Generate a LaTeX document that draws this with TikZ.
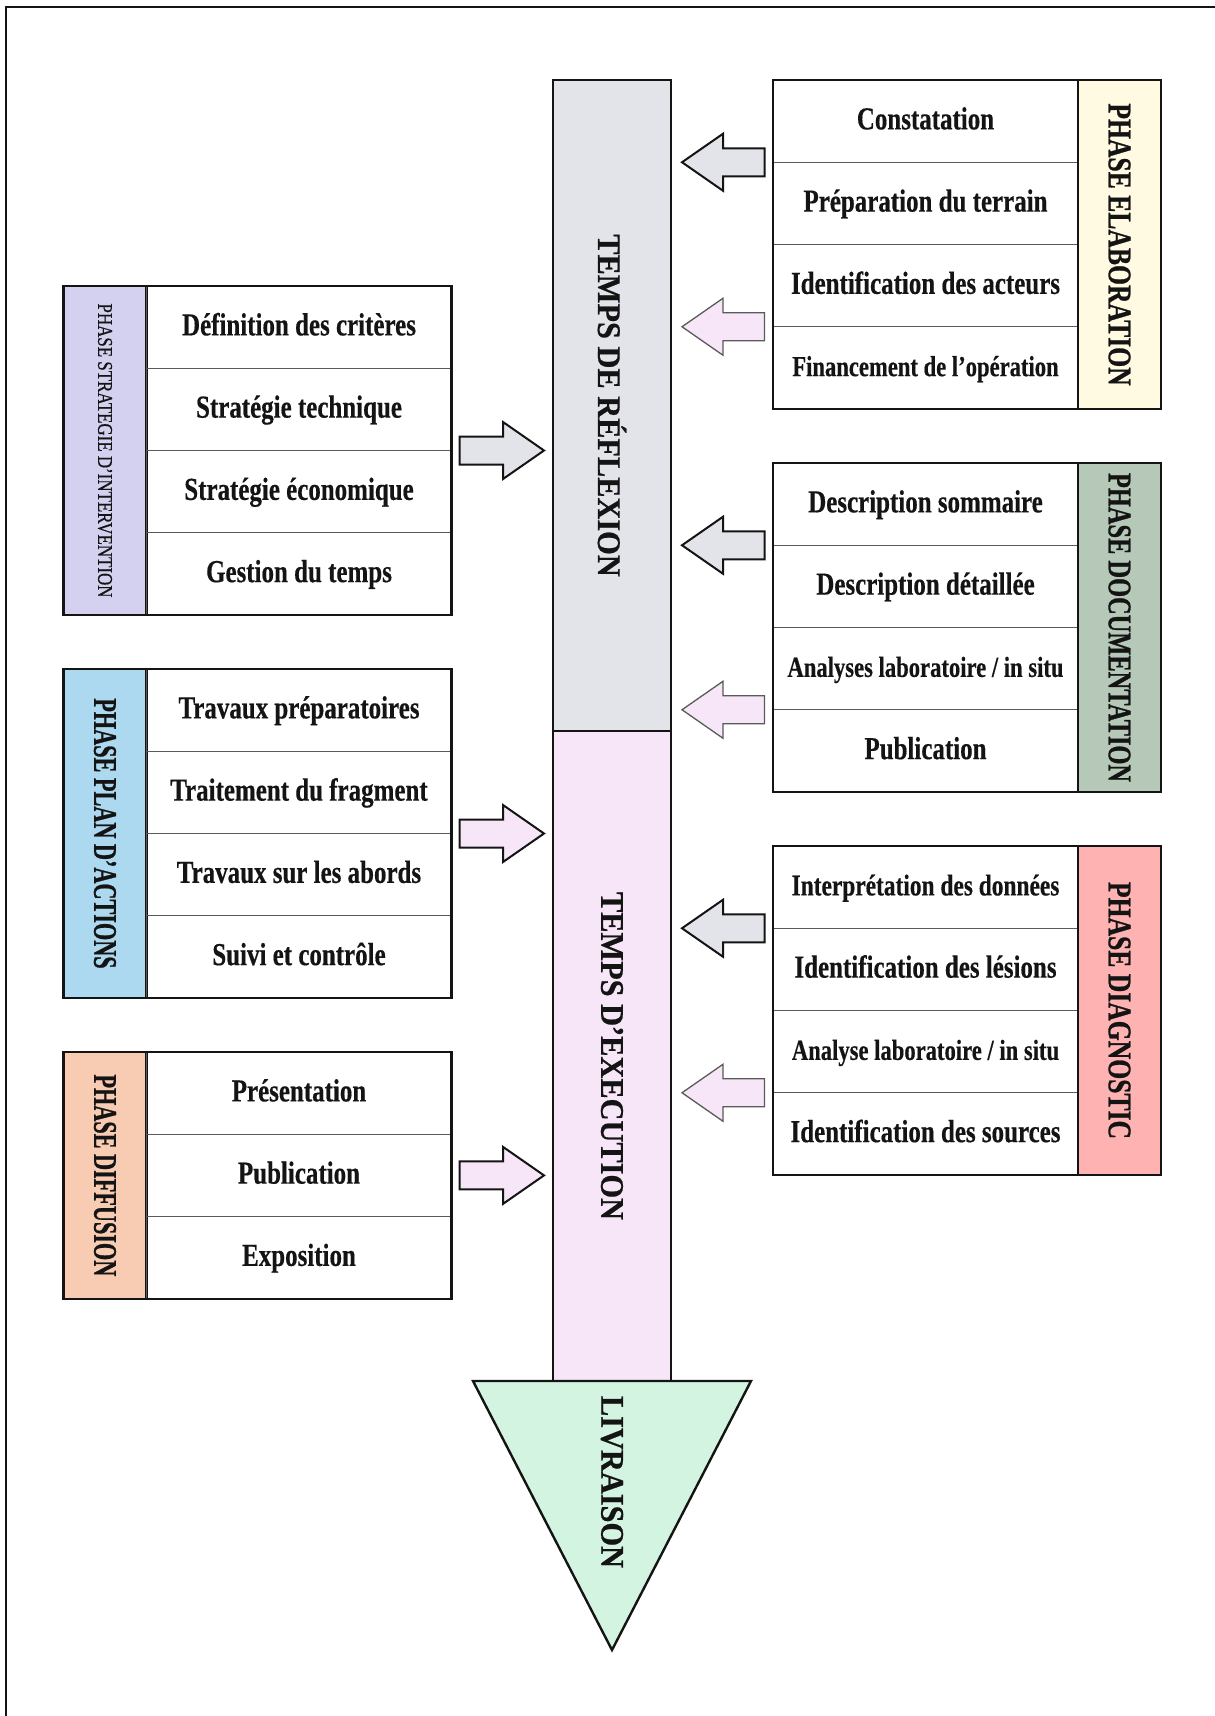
\documentclass[tikz,border=0pt]{standalone}
\usepackage{fontspec}
\usepackage{graphicx}
\usepackage{xcolor}
\usetikzlibrary{positioning, calc}
\newfontfamily\itemfont{Liberation Serif}[FakeStretch=0.78, FakeBold=0.4]
\newfontfamily\phasefont{Liberation Serif}[FakeStretch=0.74, FakeBold=0.8]
\newfontfamily\tempsfont{Liberation Serif}[FakeStretch=0.92, FakeBold=0.6]
\newfontfamily\stratfont{Liberation Serif}[FakeStretch=0.84, FakeBold=0.5]
\definecolor{ink}{RGB}{20, 20, 20}
\definecolor{rulegray}{RGB}{90, 90, 90}
\definecolor{reflgray}{RGB}{227, 227, 234}
\definecolor{execpink}{RGB}{246, 230, 247}
\definecolor{mint}{RGB}{212, 244, 226}
\definecolor{elabyellow}{RGB}{255, 250, 225}
\definecolor{docsage}{RGB}{182, 201, 184}
\definecolor{diagrose}{RGB}{255, 178, 178}
\definecolor{stratlav}{RGB}{212, 208, 240}
\definecolor{planblue}{RGB}{172, 216, 240}
\definecolor{diffpeach}{RGB}{248, 204, 178}

% vertical label, read top to bottom, optional length factor
\newcommand{\vlabel}[2][1]{\rotatebox{-90}{\scalebox{#1}[1]{#2}}}

% horizontal block arrow from tail coordinate #3 to tip coordinate #4
\newcommand{\blockarrow}[4][blk]{%
  \draw[#1, fill=#2]
    ($(#3)+(0,-14)$) -- ($(#4)!41pt!(#3)+(0,-14)$) -- ($(#4)!41pt!(#3)+(0,-28.5)$)
    -- (#4) -- ($(#4)!41pt!(#3)+(0,28.5)$) -- ($(#4)!41pt!(#3)+(0,14)$)
    -- ($(#3)+(0,14)$) -- cycle;}

\begin{document}
\begin{tikzpicture}[x=1pt, y=-1pt,
  item/.style={draw=rulegray, line width=1.1pt, outer sep=0pt, inner sep=0pt,
    minimum width=305pt, minimum height=82.25pt, text=ink,
    text height=22pt, text depth=5.5pt,
    font=\itemfont\bfseries\fontsize{32}{34}\selectfont},
  itemsm/.style={item, font=\itemfont\bfseries\fontsize{29}{31}\selectfont},
  phase/.style={draw=ink, line width=2.2pt, outer sep=0pt, inner sep=0pt,
    minimum width=83pt, minimum height=329pt, text=ink,
    font=\phasefont\bfseries\fontsize{33}{33}\selectfont},
  bar/.style={draw=ink, line width=2.4pt, outer sep=0pt, inner sep=0pt,
    minimum width=118pt, text=ink,
    font=\tempsfont\bfseries\fontsize{33}{33}\selectfont},
  frm/.style={draw=ink, line width=2.4pt},
  blk/.style={draw=ink, line width=2pt, line join=miter},
  blklite/.style={draw=rulegray, line width=1.3pt, line join=miter}
]
\useasboundingbox (0,0) rectangle (1215,1716);
\fill[white] (0,0) rectangle (1215,1716);
\draw[line width=2.4pt, ink] (6,1716) -- (6,7) -- (1215,7);

% central time bar
\node[bar, fill=reflgray, minimum height=651pt, anchor=north] (refl) at (612,80)
  {\vlabel{TEMPS DE RÉFLEXION}};
\node[bar, fill=execpink, minimum height=650pt, below=0pt of refl] (exec)
  {\vlabel{TEMPS D’EXECUTION}};
\draw[frm, fill=mint, line join=miter] ($(exec.south)+(-139,0)$) coordinate (trl)
  -- ($(exec.south)+(139,0)$) coordinate (trr)
  -- ($(exec.south)+(0,269)$) coordinate (trtip) -- cycle;
\node[bar, draw=none, minimum height=0pt] (livr) at ($(exec.south)+(0,101)$)
  {\vlabel{LIVRAISON}};

% right: phase elaboration
\node[item, anchor=north west] (r1a) at (773,80) {Constatation};
\node[item, below=0pt of r1a] (r1b) {Préparation du terrain};
\node[item, below=0pt of r1b] (r1c) {Identification des acteurs};
\node[itemsm, below=0pt of r1c] (r1d) {Financement de l’opération};
\node[phase, fill=elabyellow, anchor=north west] (p1) at (r1a.north east)
  {\vlabel[1.05]{PHASE ELABORATION}};
\draw[frm] (r1a.north west) rectangle (p1.south east);

% right: phase documentation
\node[item, anchor=north west] (r2a) at (773,463) {Description sommaire};
\node[item, below=0pt of r2a] (r2b) {Description détaillée};
\node[itemsm, below=0pt of r2b] (r2c) {Analyses laboratoire / in situ};
\node[item, below=0pt of r2c] (r2d) {Publication};
\node[phase, fill=docsage, anchor=north west] (p2) at (r2a.north east)
  {\vlabel{PHASE DOCUMENTATION}};
\draw[frm] (r2a.north west) rectangle (p2.south east);

% right: phase diagnostic
\node[itemsm, anchor=north west, font=\itemfont\bfseries\fontsize{30}{32}\selectfont]
  (r3a) at (773,846) {Interprétation des données};
\node[item, below=0pt of r3a] (r3b) {Identification des lésions};
\node[itemsm, below=0pt of r3b] (r3c) {Analyse laboratoire / in situ};
\node[item, below=0pt of r3c] (r3d) {Identification des sources};
\node[phase, fill=diagrose, anchor=north west] (p3) at (r3a.north east)
  {\vlabel[1.05]{PHASE DIAGNOSTIC}};
\draw[frm] (r3a.north west) rectangle (p3.south east);

% left: phase strategie
\node[phase, fill=stratlav, anchor=north west,
      font=\stratfont\fontsize{21}{21}\selectfont] (p4) at (63.5,286)
  {\vlabel[0.96]{PHASE STRATEGIE D’INTERVENTION}};
\node[item, anchor=north west] (l1a) at (p4.north east) {Définition des critères};
\node[item, below=0pt of l1a] (l1b) {Stratégie technique};
\node[item, below=0pt of l1b] (l1c) {Stratégie économique};
\node[item, below=0pt of l1c] (l1d) {Gestion du temps};
\draw[frm] (p4.north west) rectangle (l1d.south east);

% left: phase plan d'actions
\node[phase, fill=planblue, anchor=north west] (p5) at (63.5,669)
  {\vlabel[0.91]{PHASE PLAN D’ACTIONS}};
\node[item, anchor=north west] (l2a) at (p5.north east) {Travaux préparatoires};
\node[item, below=0pt of l2a] (l2b) {Traitement du fragment};
\node[item, below=0pt of l2b] (l2c) {Travaux sur les abords};
\node[item, below=0pt of l2c] (l2d) {Suivi et contrôle};
\draw[frm] (p5.north west) rectangle (l2d.south east);

% left: phase diffusion
\node[phase, fill=diffpeach, minimum height=246.75pt, anchor=north west] (p6)
  at (63.5,1052) {\vlabel[0.91]{PHASE DIFFUSION}};
\node[item, anchor=north west] (l3a) at (p6.north east) {Présentation};
\node[item, below=0pt of l3a] (l3b) {Publication};
\node[item, below=0pt of l3b] (l3c) {Exposition};
\draw[frm] (p6.north west) rectangle (l3c.south east);

% arrow end points
\coordinate (ar1t) at ($(r1a.south west)+(-8.5,0)$);
\coordinate (ar1h) at ($(refl.east |- r1a.south)+(11,0)$);
\coordinate (ar2t) at ($(r1c.south west)+(-8.5,0)$);
\coordinate (ar2h) at ($(refl.east |- r1c.south)+(11,0)$);
\coordinate (ar3t) at ($(r2a.south west)+(-8.5,0)$);
\coordinate (ar3h) at ($(refl.east |- r2a.south)+(11,0)$);
\coordinate (ar4t) at ($(r2c.south west)+(-8.5,0)$);
\coordinate (ar4h) at ($(refl.east |- r2c.south)+(11,0)$);
\coordinate (ar5t) at ($(r3a.south west)+(-8.5,0)$);
\coordinate (ar5h) at ($(exec.east |- r3a.south)+(11,0)$);
\coordinate (ar6t) at ($(r3c.south west)+(-8.5,0)$);
\coordinate (ar6h) at ($(exec.east |- r3c.south)+(11,0)$);
\coordinate (al1t) at ($(l1b.south east)+(8,0)$);
\coordinate (al1h) at ($(refl.west |- l1b.south)+(-9,0)$);
\coordinate (al2t) at ($(l2b.south east)+(8,0)$);
\coordinate (al2h) at ($(exec.west |- l2b.south)+(-9,0)$);
\coordinate (al3t) at ($(l3b.east)+(8,0)$);
\coordinate (al3h) at ($(exec.west |- l3b.east)+(-9,0)$);

\blockarrow{reflgray}{ar1t}{ar1h}
\blockarrow[blklite]{execpink}{ar2t}{ar2h}
\blockarrow{reflgray}{ar3t}{ar3h}
\blockarrow[blklite]{execpink}{ar4t}{ar4h}
\blockarrow{reflgray}{ar5t}{ar5h}
\blockarrow[blklite]{execpink}{ar6t}{ar6h}
\blockarrow{reflgray}{al1t}{al1h}
\blockarrow{execpink}{al2t}{al2h}
\blockarrow{execpink}{al3t}{al3h}
\end{tikzpicture}
\end{document}
